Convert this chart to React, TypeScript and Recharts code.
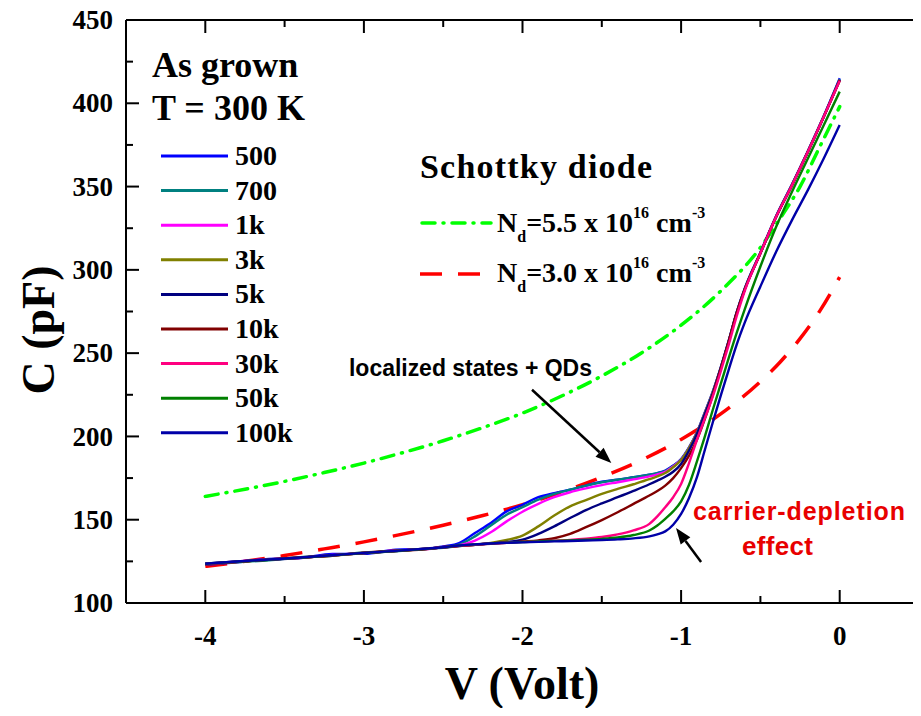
import { LineChart, Line, XAxis, YAxis, ReferenceLine } from "recharts";

const SERIF = "'Liberation Serif', 'Times New Roman', serif";
const SANS = "'Liberation Sans', Arial, sans-serif";

// bias points shared by the measured C-V sweeps (denser around the knee)
const VOLTS = [
  -4, -3.8, -3.6, -3.4, -3.2, -3, -2.8, -2.6, -2.5, -2.4, -2.3, -2.2, -2.1, -2,
  -1.9, -1.8, -1.7, -1.6, -1.5, -1.4, -1.3, -1.2, -1.15, -1.1, -1.05, -1, -0.95,
  -0.9, -0.85, -0.8, -0.75, -0.7, -0.65, -0.6, -0.5, -0.4, -0.3, -0.2, -0.1, 0,
];

// capacitance (pF) per measurement frequency
const C_500 = [
  123, 124.5, 126.5, 127, 129.5, 129.5, 132, 132.5, 134, 136,
  142, 148, 155, 159, 163.5, 166, 168, 170.5, 172.8, 174, 175.5, 177, 178,
  179.5, 182.5, 186.5, 193.5, 202.5, 214.5, 227, 241.5, 257.5, 274.5, 288.5,
  310.5, 332.5, 351.5, 371.5, 392.5, 415,
];
const C_700 = [
  123.8, 124.6, 125.6, 127.5, 128.4, 130.3, 131, 132.8, 133.2, 135,
  140, 146.5, 153, 157.5, 162, 165.5, 168, 170.5, 172.5, 174, 175.5, 177, 178,
  179.2, 182.2, 186.2, 193.2, 202.2, 214.2, 226.7, 241.2, 257.2, 274.2, 288.2,
  310.2, 332.2, 351.2, 371.2, 392.2, 414.5,
];
const C_1K = [
  123.5, 125, 126.2, 127, 128.8, 130, 131.5, 132.4, 133.5, 134.5,
  137.5, 142.5, 149, 154.8, 159.5, 163.5, 166.5, 168.8, 170.8, 172.5, 174.2, 176, 177.2,
  178.8, 182, 186, 193, 202, 214, 226.5, 241, 257, 274, 288,
  310, 332, 351, 371, 392, 414,
];
const C_3K = [
  123.3, 124.8, 126, 127.3, 128.5, 130.1, 131.3, 132.5, 133.4, 134.2,
  135, 136, 137.8, 140.5, 146, 152.5, 158, 161.8, 165.5, 168.5, 171.3, 174.3, 176,
  178, 181.5, 185.8, 193, 202, 214, 226.5, 241, 257, 274, 288,
  310, 332, 351, 371, 392, 413.5,
];
const C_5K = [
  123.6, 124.9, 125.9, 127.1, 128.7, 129.9, 131.2, 132.6, 133.3, 134.2,
  135, 135.7, 136.6, 138, 141.5, 146, 151, 155.8, 159.8, 163.5, 167.3, 171.3, 173.5,
  175.8, 178.8, 183.5, 191.5, 201.5, 213.5, 226, 241, 257, 274, 288,
  310, 332, 351, 371, 392, 414,
];
const C_10K = [
  123.2, 124.6, 126.2, 127.4, 128.4, 130.2, 131.4, 132.4, 133.6, 134.3,
  135, 135.6, 136.2, 136.9, 137.6, 138.9, 141.5, 145.5, 149.8, 154.5, 159.5, 164.5, 167.2,
  170.5, 175, 181, 188.5, 198, 210.5, 225, 240.5, 257, 274, 288,
  310, 332, 351, 371, 392, 414,
];
const C_30K = [
  123.4, 124.7, 126.1, 127.2, 128.6, 130, 131.2, 132.7, 133.4, 134.3,
  135, 135.7, 136.2, 136.7, 137, 137.4, 137.9, 138.6, 139.6, 141.2, 143.6, 147.5, 152,
  157.5, 163.5, 171.5, 184, 198, 211, 224, 239, 255, 272, 287,
  310, 332, 351, 371, 392, 413.5,
];
const C_50K = [
  123.5, 124.8, 126, 127.2, 128.6, 130, 131.2, 132.6, 133.4, 134.5,
  135.2, 135.8, 136.2, 136.6, 137, 137.3, 137.6, 138, 138.5, 139.3, 140.8, 143.5, 146.5,
  150.5, 155, 161, 171, 185, 200, 216, 231.5, 247, 262, 276,
  302, 326, 347, 367, 387, 407,
];
const C_100K = [
  123.6, 124.9, 126.1, 127.3, 128.7, 130.1, 131.3, 132.7, 133.5, 134.5,
  135.2, 135.7, 136.1, 136.4, 136.7, 137, 137.2, 137.5, 137.8, 138.2, 138.8, 140, 141.2,
  143, 147, 153.5, 163, 175.5, 192, 208.5, 224.5, 240, 255, 268,
  290, 311, 330, 348, 367, 387,
];

const FREQ_LABELS = ["500", "700", "1k", "3k", "5k", "10k", "30k", "50k", "100k"];
const FREQ_VALUES = [C_500, C_700, C_1K, C_3K, C_5K, C_10K, C_30K, C_50K, C_100K];
const FREQ_COLORS = [
  "#0000ff", "#008080", "#ff00ff", "#808000", "#000080",
  "#800000", "#ff0080", "#008000", "#0000a8",
];

// ideal Schottky depletion capacitance for two doping levels
const MODEL_VOLTS = [
  -4, -3.75, -3.5, -3.25, -3, -2.75, -2.5, -2.25, -2, -1.75, -1.5, -1.25, -1,
  -0.75, -0.5, -0.375, -0.25, -0.125, 0,
];
const ND_55 = [
  164, 168.3, 173, 178.3, 184, 190.4, 197.4, 205.3, 214, 224.4, 236.3, 250.1,
  266.8, 287.3, 313.4, 331, 350, 374, 398,
];
const ND_30 = [
  122, 125, 128.5, 132.5, 136.7, 141.5, 146.7, 152.5, 159, 166.7, 175.6, 185.8,
  198.2, 213.5, 232.9, 244.7, 258.7, 275.4, 295.7,
];

const X_TICKS = [-4, -3.5, -3, -2.5, -2, -1.5, -1, -0.5, 0];
const Y_TICKS = [100, 125, 150, 175, 200, 225, 250, 275, 300, 325, 350, 375, 400, 425, 450];

// annotation arrows, in (V, pF)
const ARROWS = [
  { from: { x: -1.94, y: 228 }, to: { x: -1.44, y: 184 } },
  { from: { x: -0.874, y: 124.6 }, to: { x: -1.032, y: 145 } },
];

const rows = VOLTS.map((v, i) => {
  const row: Record<string, number> = { v };
  FREQ_LABELS.forEach((f, k) => {
    row[f] = FREQ_VALUES[k][i];
  });
  return row;
});
const nd55Rows = MODEL_VOLTS.map((v, i) => ({ v, c: ND_55[i] }));
const nd30Rows = MODEL_VOLTS.map((v, i) => ({ v, c: ND_30[i] }));

// the drawing covers the whole window; the holder is pulled back over the body margin
const W = 921;
const H = 716;

const isMajorX = (v: number) => Number.isInteger(v);
const isMajorY = (v: number) => v % 50 === 0;

function BottomTick(props: any) {
  const { x, y, payload } = props;
  const major = isMajorX(payload.value);
  return (
    <g>
      <line x1={x} x2={x} y1={y} y2={y - (major ? 13 : 7)} stroke="#000" strokeWidth={2} />
      {major && (
        <text x={x} y={y + 42} textAnchor="middle" fontFamily={SERIF} fontWeight="bold" fontSize={27} fill="#000">
          {payload.value}
        </text>
      )}
    </g>
  );
}

function TopTick(props: any) {
  const { x, y, payload } = props;
  const major = isMajorX(payload.value);
  return <line x1={x} x2={x} y1={y} y2={y + (major ? 13 : 7)} stroke="#000" strokeWidth={2} />;
}

function LeftTick(props: any) {
  const { x, y, payload } = props;
  const major = isMajorY(payload.value);
  return (
    <g>
      <line x1={x} x2={x + (major ? 13 : 7)} y1={y} y2={y} stroke="#000" strokeWidth={2} />
      {major && (
        <text x={x - 13} y={y} dy="0.34em" textAnchor="end" fontFamily={SERIF} fontWeight="bold" fontSize={27} fill="#000">
          {payload.value}
        </text>
      )}
    </g>
  );
}

function RightTick(props: any) {
  const { x, y, payload } = props;
  const major = isMajorY(payload.value);
  return <line x1={x} x2={x - (major ? 13 : 7)} y1={y} y2={y} stroke="#000" strokeWidth={2} />;
}

function ArrowShape(props: any) {
  const { x1, y1, x2, y2 } = props;
  const ang = Math.atan2(y2 - y1, x2 - x1);
  const len = 16;
  const half = 6;
  const bx = x2 - len * Math.cos(ang);
  const by = y2 - len * Math.sin(ang);
  const px = -Math.sin(ang) * half;
  const py = Math.cos(ang) * half;
  return (
    <g>
      <line x1={x1} y1={y1} x2={bx} y2={by} stroke="#000" strokeWidth={2.5} />
      <polygon points={`${x2},${y2} ${bx + px},${by + py} ${bx - px},${by - py}`} fill="#000" />
    </g>
  );
}

const GREEN_DASH = "13 8 1 8";
const RED_DASH = "22 16";

export default function App() {
  const legendTop = 156;
  const legendStep = 34.6;

  return (
    <div style={{ position: "relative", top: -8, left: -8, width: W - 9, height: H - 16 }}>
      <LineChart width={W} height={H} data={rows} margin={{ top: 19, right: 1, bottom: 73, left: 66 }}>
        <XAxis
          dataKey="v"
          type="number"
          domain={[-4.5, 0.5]}
          ticks={X_TICKS}
          interval={0}
          height={40}
          tickSize={0}
          tickMargin={0}
          tick={BottomTick}
          axisLine={{ stroke: "#000", strokeWidth: 2 }}
          tickLine={false}
        />
        <XAxis
          xAxisId="top"
          orientation="top"
          dataKey="v"
          type="number"
          domain={[-4.5, 0.5]}
          ticks={X_TICKS}
          interval={0}
          height={1}
          tickSize={0}
          tickMargin={0}
          tick={TopTick}
          axisLine={{ stroke: "#000", strokeWidth: 2 }}
          tickLine={false}
        />
        <YAxis
          type="number"
          domain={[100, 450]}
          ticks={Y_TICKS}
          interval={0}
          width={60}
          tickSize={0}
          tickMargin={0}
          tick={LeftTick}
          axisLine={{ stroke: "#000", strokeWidth: 2 }}
          tickLine={false}
        />
        <YAxis
          yAxisId="right"
          orientation="right"
          type="number"
          domain={[100, 450]}
          ticks={Y_TICKS}
          interval={0}
          width={1}
          tickSize={0}
          tickMargin={0}
          tick={RightTick}
          axisLine={{ stroke: "#000", strokeWidth: 2 }}
          tickLine={false}
        />

        <Line
          data={nd55Rows}
          dataKey="c"
          type="monotone"
          stroke="#00ff00"
          strokeWidth={3.5}
          strokeDasharray={GREEN_DASH}
          strokeLinecap="round"
          dot={false}
          isAnimationActive={false}
        />
        <Line
          data={nd30Rows}
          dataKey="c"
          type="monotone"
          stroke="#ff0000"
          strokeWidth={3.5}
          strokeDasharray={RED_DASH}
          dot={false}
          isAnimationActive={false}
        />

        {FREQ_LABELS.map((f, k) => (
          <Line
            key={f}
            dataKey={f}
            type="monotone"
            stroke={FREQ_COLORS[k]}
            strokeWidth={2.4}
            dot={false}
            isAnimationActive={false}
          />
        ))}

        {ARROWS.map((a, i) => (
          <ReferenceLine key={i} segment={[a.from, a.to]} shape={ArrowShape} ifOverflow="visible" />
        ))}
      </LineChart>

      <svg width={W} height={H} style={{ position: "absolute", left: 0, top: 0, pointerEvents: "none" }}>
        {/* axis titles */}
        <text x={522} y={699} textAnchor="middle" fontFamily={SERIF} fontWeight="bold" fontSize={46} fill="#000">
          V (Volt)
        </text>
        <text
          transform="translate(54 330) rotate(-90)"
          textAnchor="middle"
          fontFamily={SERIF}
          fontWeight="bold"
          fontSize={46}
          fill="#000"
        >
          C (pF)
        </text>

        {/* sample conditions */}
        <text x={152} y={77} fontFamily={SERIF} fontWeight="bold" fontSize={36} fill="#000">
          As grown
        </text>
        <text x={152} y={120} fontFamily={SERIF} fontWeight="bold" fontSize={36} fill="#000">
          T = 300 K
        </text>

        {/* frequency legend */}
        {FREQ_LABELS.map((f, k) => {
          const y = legendTop + k * legendStep;
          return (
            <g key={f}>
              <line x1={161} x2={228} y1={y} y2={y} stroke={FREQ_COLORS[k]} strokeWidth={3} />
              <text x={235} y={y + 9} fontFamily={SERIF} fontWeight="bold" fontSize={28} fill="#000">
                {f}
              </text>
            </g>
          );
        })}

        {/* model legend */}
        <text x={420} y={178} fontFamily={SERIF} fontWeight="bold" fontSize={34} textLength={232} fill="#000">
          Schottky diode
        </text>
        <line x1={422} x2={491} y1={223} y2={223} stroke="#00ff00" strokeWidth={3.5} strokeDasharray={GREEN_DASH} strokeLinecap="round" />
        <text x={497} y={232} fontFamily={SERIF} fontWeight="bold" fontSize={28} fill="#000">
          N<tspan dy={10} fontSize={16}>d</tspan>
          <tspan dy={-10}>=5.5 x 10</tspan>
          <tspan dy={-14} fontSize={16}>16</tspan>
          <tspan dy={14}>{" cm"}</tspan>
          <tspan dy={-14} fontSize={16}>-3</tspan>
        </text>
        <line x1={420} x2={491} y1={274} y2={274} stroke="#ff0000" strokeWidth={3.5} strokeDasharray={RED_DASH} />
        <text x={497} y={282} fontFamily={SERIF} fontWeight="bold" fontSize={28} fill="#000">
          N<tspan dy={10} fontSize={16}>d</tspan>
          <tspan dy={-10}>=3.0 x 10</tspan>
          <tspan dy={-14} fontSize={16}>16</tspan>
          <tspan dy={14}>{" cm"}</tspan>
          <tspan dy={-14} fontSize={16}>-3</tspan>
        </text>

        {/* annotations */}
        <text x={349} y={376} fontFamily={SANS} fontWeight="bold" fontSize={23} textLength={243} fill="#000">
          localized states + QDs
        </text>
        <text x={693} y={520} fontFamily={SANS} fontWeight="bold" fontSize={25} textLength={212} fill="#e80000">
          carrier-depletion
        </text>
        <text x={742} y={555} fontFamily={SANS} fontWeight="bold" fontSize={26} textLength={71} fill="#e80000">
          effect
        </text>
      </svg>
    </div>
  );
}
